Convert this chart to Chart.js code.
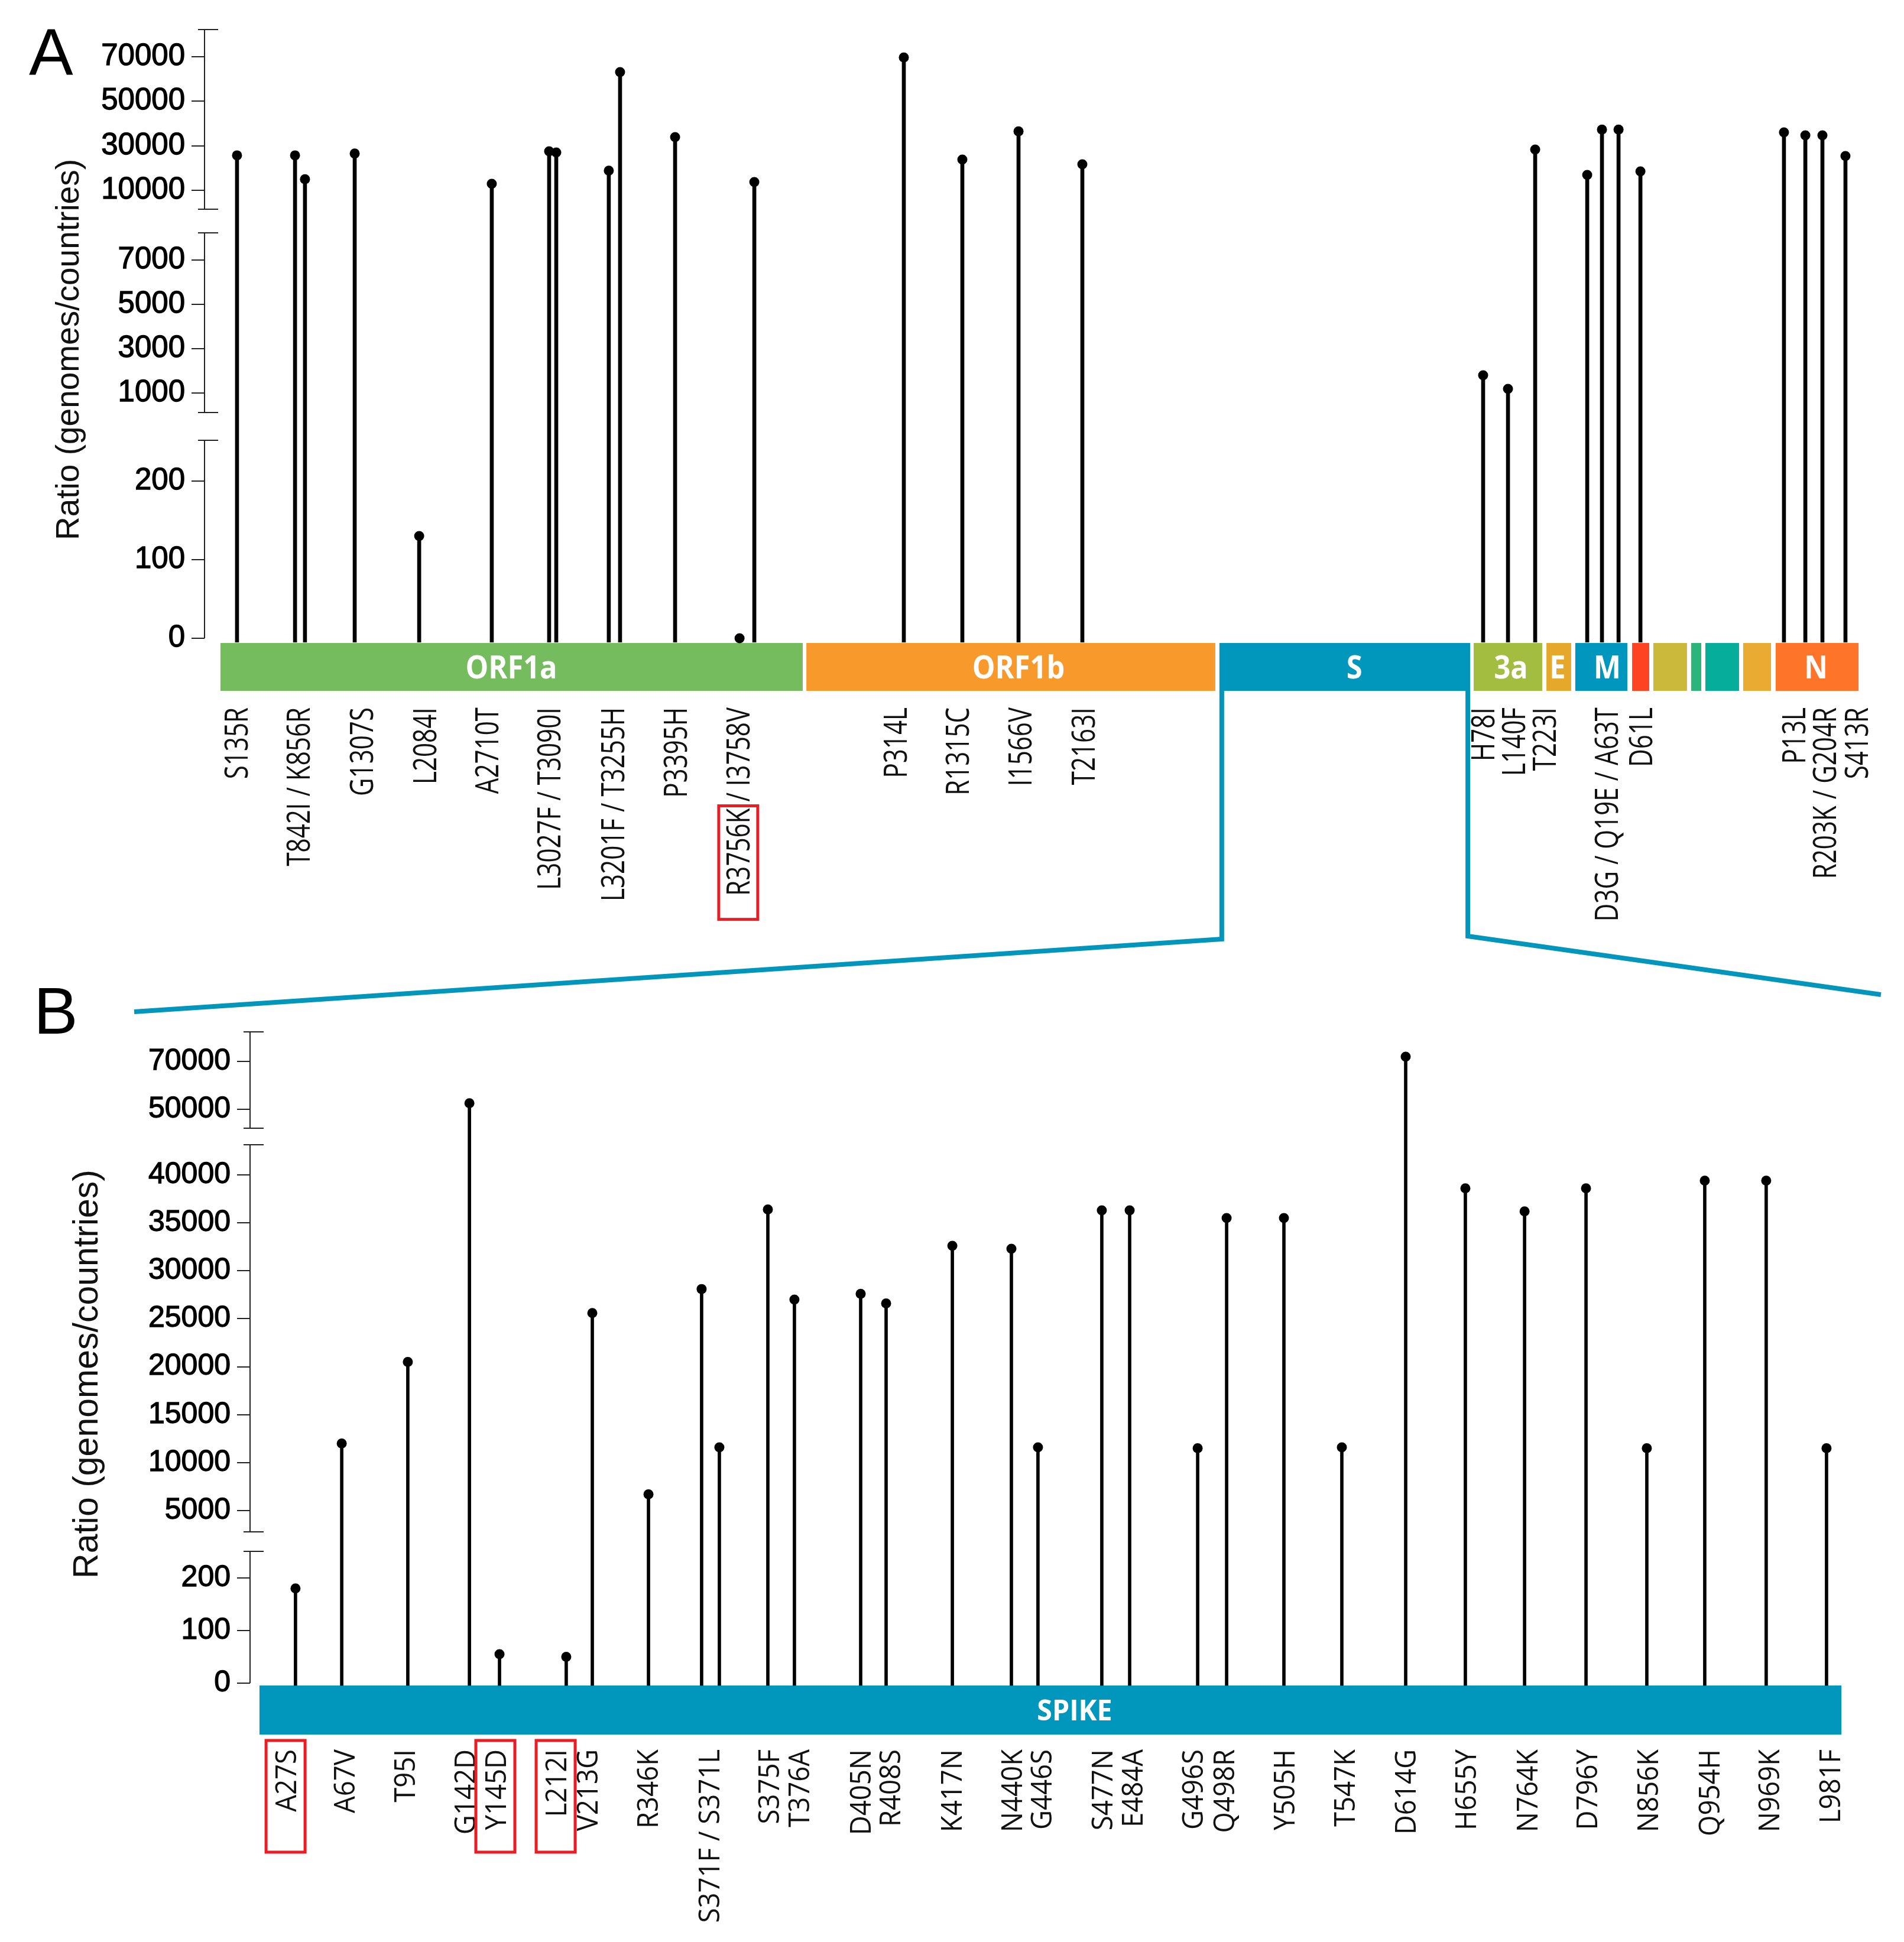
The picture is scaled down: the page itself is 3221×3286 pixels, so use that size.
<!DOCTYPE html>
<html>
<head>
<meta charset="utf-8">
<script src="https://cdn.jsdelivr.net/npm/chart.js@4.4.1/dist/chart.umd.min.js"></script>
<style>
  html, body { margin: 0; padding: 0; background: #fff; }
  #wrap { position: relative; width: 3221px; height: 3286px; }
  #wrap canvas { position: absolute; left: 0; top: 0; }
</style>
</head>
<body>
<div id="wrap">
  <canvas id="chartA" width="3221" height="3286"></canvas>
  <canvas id="chartB" width="3221" height="3286"></canvas>
</div>
<script>
// ---- Panel A: genome-wide mutations (x = position along the drawn genome map, 0..1000)
const mutA = ['S135R', 'T842I', 'K856R', 'G1307S', 'L2084I', 'A2710T', 'L3027F', 'T3090I', 'L3201F', 'T3255H',
  'P3395H', 'R3756K', 'I3758V', 'P314L', 'R1315C', 'I1566V', 'T2163I', 'H78I', 'L140F', 'T223I',
  'D3G', 'Q19E', 'A63T', 'D61L', 'P13L', 'R203K', 'G204R', 'S413R'];
const posA = [19.6, 54.6, 60.6, 90.6, 129.5, 173.3, 207.9, 212.2, 243.9, 250.7,
  283.9, 322.8, 331.7, 421.9, 457.2, 491.1, 529.6, 771.4, 786.4, 802.8,
  834.2, 843.1, 853.1, 866.3, 952.9, 965.8, 976.1, 990.0];
const ratioA = [25700, 25700, 15000, 26500, 130, 12900, 27500, 27000, 18800, 63100,
  33900, 0, 13700, 69700, 23800, 36500, 21700, 1800, 1190, 28300,
  16900, 37300, 37300, 18500, 36000, 34700, 34700, 25400];

const labelsA = ['S135R', 'T842I / K856R', 'G1307S', 'L2084I', 'A2710T', 'L3027F / T3090I', 'L3201F / T3255H',
  'P3395H', 'R3756K / I3758V', 'P314L', 'R1315C', 'I1566V', 'T2163I', 'H78I', 'L140F', 'T223I',
  'D3G / Q19E / A63T', 'D61L', 'P13L', 'R203K / G204R', 'S413R'];
const labelPosA = [19.3, 56.7, 94.9, 133.0, 170.5, 207.9, 246.4, 284.2, 322.0, 416.9, 454.4, 492.2, 530.3,
  771.4, 789.9, 808.5, 845.9, 866.6, 959.0, 977.5, 996.8];

const genesA = ['ORF1a', 'ORF1b', 'S', 'ORF3a', 'E', 'M', 'ORF6', 'ORF7a', 'ORF7b', 'ORF8', 'ORF9b', 'N'];
const geneStartA = [9.6, 363.1, 612.3, 765.7, 809.6, 827.0, 861.3, 874.1, 896.9, 905.5, 928.3, 947.9];
const geneEndA = [360.9, 609.8, 763.6, 807.1, 824.5, 858.4, 871.6, 894.4, 903.0, 925.8, 945.1, 997.9];
const geneTextA = ['ORF1a', 'ORF1b', 'S', '3a', 'E', 'M', '', '', '', '', '', 'N'];
const geneTextPosA = [185.1, 491.1, 693.7, 788.2, 816.3, 846.3, null, null, null, null, null, 972.2];
const geneColorsA = ['#74bc5d', '#f8992c', '#0197bd', '#a3bd40', '#e6a82a', '#0196bd',
  '#fd4322', '#cab93a', '#2bb57a', '#07ad9b', '#e9ab31', '#fe7429'];

const ticksA = [0, 100, 200, 1000, 3000, 5000, 7000, 10000, 30000, 50000, 70000];

// ---- Panel B: spike mutations
const mutB = ['A27S', 'A67V', 'T95I', 'G142D', 'Y145D', 'L212I', 'V213G', 'R346K', 'S371F', 'S371L',
  'S375F', 'T376A', 'D405N', 'R408S', 'K417N', 'N440K', 'G446S', 'S477N', 'E484A', 'G496S',
  'Q498R', 'Y505H', 'T547K', 'D614G', 'H655Y', 'N764K', 'D796Y', 'N856K', 'Q954H', 'N969K', 'L981F'];
const posB = [28.4, 57.3, 98.6, 137.1, 155.9, 197.6, 213.9, 249.0, 282.2, 293.3,
  323.6, 340.2, 381.6, 397.5, 438.9, 475.8, 492.4, 532.3, 549.7, 592.2,
  610.3, 646.1, 682.3, 722.2, 759.5, 796.5, 834.9, 872.9, 909.1, 947.5, 985.2];
const ratioB = [180, 12000, 20500, 52500, 55, 50, 25600, 6700, 28100, 11600,
  36400, 27000, 27600, 26600, 32600, 32300, 11600, 36300, 36300, 11500,
  35500, 35500, 11600, 72000, 38600, 36200, 38600, 11500, 39400, 39400, 11500];

const labelsB = ['A27S', 'A67V', 'T95I', 'G142D', 'Y145D', 'L212I', 'V213G', 'R346K', 'S371F / S371L',
  'S375F', 'T376A', 'D405N', 'R408S', 'K417N', 'N440K', 'G446S', 'S477N', 'E484A', 'G496S', 'Q498R',
  'Y505H', 'T547K', 'D614G', 'H655Y', 'N764K', 'D796Y', 'N856K', 'Q954H', 'N969K', 'L981F'];
const labelPosB = [22.2, 58.7, 96.4, 134.1, 153.3, 191.0, 210.6, 248.2, 286.7,
  324.0, 342.8, 381.2, 399.7, 438.1, 475.8, 494.3, 532.3, 551.2, 588.8, 608.4,
  646.1, 683.8, 721.8, 759.5, 797.9, 835.2, 873.3, 911.7, 949.0, 987.1];

const genesB = ['SPIKE'];
const geneStartB = [5.9];
const geneEndB = [994.5];
const geneTextB = ['SPIKE'];
const geneTextPosB = [515.3];
const geneColorsB = ['#0197bd'];

const ticksB = [0, 100, 200, 5000, 10000, 15000, 20000, 25000, 30000, 35000, 40000, 50000, 70000];

const FONT_NUM = '"Liberation Sans", Arial, sans-serif';
const FONT_LBL = '"Open Sans", "Noto Sans", sans-serif';
const Y_TITLE = 'Ratio (genomes/countries)';

/**
 * Broken y axis: several linear pieces stacked on top of each other.
 * each segment: v0/v1 anchor values at decimals d0/d1, lo/hi = visible extent (decimal)
 */
class BrokenAxis extends Chart.LinearScale {
  static id = 'brokenAxis';
  static defaults = {};

  _valueAt(s, dec) {
    return s.v0 + (dec - s.d0) * (s.v1 - s.v0) / (s.d1 - s.d0);
  }
  _segFor(v) {
    const segs = this.options.segments;
    return segs.find(g => v <= this._valueAt(g, g.hi)) || segs[segs.length - 1];
  }
  determineDataLimits() {
    const segs = this.options.segments;
    this.min = this._valueAt(segs[0], 0);
    this.max = this._valueAt(segs[segs.length - 1], 1);
  }
  buildTicks() {
    return this.options.tickValues.map(v => ({ value: v }));
  }
  getPixelForValue(v) {
    const s = this._segFor(v);
    return this.getPixelForDecimal(s.d0 + (v - s.v0) * (s.d1 - s.d0) / (s.v1 - s.v0));
  }
  getValueForPixel(p) {
    const dec = this.getDecimalForPixel(p);
    const segs = this.options.segments;
    const s = segs.find(g => dec <= g.hi) || segs[segs.length - 1];
    return this._valueAt(s, dec);
  }
}
Chart.register(BrokenAxis);

// rotated (bottom-to-top) label whose end sits at yTop
function drawUpLabel(ctx, text, x, yTop, size, condense) {
  ctx.save();
  ctx.translate(x, yTop);
  ctx.rotate(-Math.PI / 2);
  ctx.scale(condense, 1);
  ctx.font = `${size}px ${FONT_LBL}`;
  ctx.textAlign = 'right';
  ctx.textBaseline = 'alphabetic';
  ctx.fillText(text, 0, size * 0.357);
  ctx.restore();
}

function textLen(ctx, text, size, condense) {
  ctx.save();
  ctx.font = `${size}px ${FONT_LBL}`;
  const w = ctx.measureText(text).width * condense;
  ctx.restore();
  return w;
}

// gene bar, mutation labels, broken axis line, axis title, panel letter
function decorPlugin(cfg) {
  return {
    id: 'decor' + cfg.letter,
    beforeDatasetsDraw(chart) {
      const { ctx, chartArea, scales: { x } } = chart;
      const top = chartArea.bottom + cfg.barGap;
      cfg.genes.forEach((g, i) => {
        const x0 = x.getPixelForValue(cfg.geneStart[i]);
        const x1 = x.getPixelForValue(cfg.geneEnd[i]);
        ctx.fillStyle = cfg.geneColors[i];
        ctx.fillRect(x0, top, x1 - x0, cfg.barHeight);
      });
    },
    afterDraw(chart) {
      const { ctx, chartArea, scales: { x, y } } = chart;
      const barTop = chartArea.bottom + cfg.barGap;
      const barBottom = barTop + cfg.barHeight;

      // names inside the gene bar
      ctx.save();
      ctx.fillStyle = '#fff';
      ctx.font = `bold ${cfg.geneFont}px ${FONT_LBL}`;
      ctx.textAlign = 'center';
      ctx.textBaseline = 'alphabetic';
      cfg.geneText.forEach((t, i) => {
        if (!t) return;
        const cx = x.getPixelForValue(cfg.geneTextPos[i]);
        ctx.save();
        ctx.translate(cx, (barTop + barBottom) / 2 + cfg.geneFont * 0.36);
        ctx.scale(cfg.geneCondense, 1);
        ctx.fillText(t, 0, 0);
        ctx.restore();
      });
      ctx.restore();

      // mutation labels
      ctx.fillStyle = '#111';
      const yTop = barBottom + cfg.labelGap;
      cfg.labels.forEach((t, i) => {
        drawUpLabel(ctx, t, x.getPixelForValue(cfg.labelPos[i]), yTop, cfg.labelFont, cfg.labelCondense);
      });

      // red highlight boxes
      ctx.save();
      ctx.strokeStyle = '#ec1c24';
      ctx.lineWidth = 5;
      cfg.boxes.forEach(b => {
        const i = cfg.labels.indexOf(b.label);
        const cx = x.getPixelForValue(cfg.labelPos[i]);
        let y0 = yTop + b.from, y1 = yTop + b.to;
        if (b.part) {
          const full = textLen(ctx, b.label, cfg.labelFont, cfg.labelCondense);
          const part = textLen(ctx, b.part, cfg.labelFont, cfg.labelCondense);
          y0 = yTop + full - part + b.from;
          y1 = yTop + full + b.to;
        }
        ctx.strokeRect(cx - 33, y0, 66, y1 - y0);
      });
      ctx.restore();

      // broken axis line with end caps
      ctx.save();
      ctx.strokeStyle = '#222';
      ctx.lineWidth = 2;
      const ax = y.right;
      y.options.segments.forEach((s, k) => {
        const pLo = y.getPixelForDecimal(s.lo);
        const pHi = y.getPixelForDecimal(s.hi);
        ctx.beginPath();
        ctx.moveTo(ax, pLo);
        ctx.lineTo(ax, pHi);
        ctx.moveTo(ax - 11, pHi);
        ctx.lineTo(ax + 23, pHi);
        if (k > 0) {
          ctx.moveTo(ax - 11, pLo);
          ctx.lineTo(ax + 23, pLo);
        }
        ctx.stroke();
      });
      ctx.restore();

      // y axis title, rotated
      ctx.save();
      ctx.fillStyle = '#111';
      ctx.font = `${cfg.titleFont}px ${FONT_NUM}`;
      ctx.textAlign = 'center';
      ctx.textBaseline = 'alphabetic';
      ctx.translate(cfg.titleX, (chartArea.top + chartArea.bottom) / 2 + cfg.titleShift);
      ctx.rotate(-Math.PI / 2);
      ctx.fillText(Y_TITLE, 0, 0);
      ctx.restore();

      // panel letter
      ctx.save();
      ctx.fillStyle = '#000';
      ctx.font = `112px ${FONT_NUM}`;
      ctx.textAlign = 'left';
      ctx.textBaseline = 'alphabetic';
      ctx.fillText(cfg.letter, cfg.letterX, cfg.letterY);
      ctx.restore();

      // zoom lines from the S gene down to panel B
      if (cfg.zoomGene) {
        const gi = cfg.genes.indexOf(cfg.zoomGene);
        const xl = x.getPixelForValue(cfg.geneStart[gi]) + 4;
        const xr = x.getPixelForValue(cfg.geneEnd[gi]) - 4;
        ctx.save();
        ctx.strokeStyle = '#0396bd';
        ctx.lineWidth = 8;
        ctx.lineJoin = 'miter';
        ctx.beginPath();
        ctx.moveTo(xl, barBottom);
        ctx.lineTo(xl, 1589);
        ctx.lineTo(227, 1712);
        ctx.stroke();
        ctx.beginPath();
        ctx.moveTo(xr, barBottom);
        ctx.lineTo(xr, 1584);
        ctx.lineTo(3182, 1683);
        ctx.stroke();
        ctx.restore();
      }
    }
  };
}

function buildPanel(canvasId, p) {
  const pts = p.pos.map((v, i) => ({ x: v, y: p.ratio[i] }));
  return new Chart(document.getElementById(canvasId), {
    type: 'bar',
    data: {
      datasets: [
        {
          type: 'bar',
          label: 'stem',
          data: pts,
          backgroundColor: '#000',
          borderWidth: 0,
          barThickness: p.stemWidth,
          base: p.stemBase,
          clip: false,
          order: 2
        },
        {
          type: 'scatter',
          label: 'ratio',
          data: pts,
          pointRadius: 8.5,
          pointBackgroundColor: '#000',
          pointBorderWidth: 0,
          clip: false,
          order: 1
        }
      ]
    },
    options: {
      responsive: false,
      animation: false,
      devicePixelRatio: 1,
      layout: { padding: p.padding },
      plugins: { legend: { display: false }, tooltip: { enabled: false } },
      scales: {
        x: { type: 'linear', min: 0, max: 1000, display: false, offset: false, grid: { offset: false } },
        y: {
          type: 'brokenAxis',
          segments: p.segments,
          tickValues: p.ticks,
          afterFit: s => { s.width = p.axisX; },
          border: { display: false },
          grid: { drawOnChartArea: false, drawTicks: true, tickLength: 22, color: '#222', lineWidth: 2 },
          ticks: {
            autoSkip: false,
            padding: 11,
            color: '#000',
            textStrokeColor: '#000',
            textStrokeWidth: 1.3,
            font: { family: FONT_NUM, size: p.tickFont },
            callback: v => String(v)
          },
          title: { display: false }
        }
      }
    },
    plugins: [decorPlugin(p.decor)]
  });
}

// panel A: chart area 346..3150 x 50..1087
buildPanel('chartA', {
  pos: posA, ratio: ratioA, ticks: ticksA,
  stemWidth: 6, stemBase: -5, axisX: 346, tickFont: 51,
  padding: { left: 0, right: 71, top: 50, bottom: 2199 },
  segments: [
    { v0: 0, v1: 200, d0: 0.00675, d1: 0.2633, lo: 0.00675, hi: 0.3298 },
    { v0: 1000, v1: 7000, d0: 0.4069, d1: 0.6239, lo: 0.3751, hi: 0.6683 },
    { v0: 10000, v1: 70000, d0: 0.7377, d1: 0.9556, lo: 0.7068, hi: 1.0 }
  ],
  decor: {
    letter: 'A', letterX: 49, letterY: 126,
    titleFont: 55, titleX: 133, titleShift: 23,
    genes: genesA, geneStart: geneStartA, geneEnd: geneEndA, geneColors: geneColorsA,
    geneText: geneTextA, geneTextPos: geneTextPosA, geneFont: 53, geneCondense: 0.92,
    barGap: 1, barHeight: 81,
    labels: labelsA, labelPos: labelPosA, labelFont: 54, labelCondense: 0.78, labelGap: 28,
    boxes: [{ label: 'R3756K / I3758V', part: 'R3756K', from: -4, to: 40 }],
    zoomGene: 'S'
  }
});

// panel B: chart area 423..3130 x 1746..2852
buildPanel('chartB', {
  pos: posB, ratio: ratioB, ticks: ticksB,
  stemWidth: 5, stemBase: -4.5, axisX: 423, tickFont: 50,
  padding: { left: 0, right: 91, top: 1746, bottom: 434 },
  segments: [
    { v0: 0, v1: 200, d0: 0.0036, d1: 0.1646, lo: 0.0036, hi: 0.2052 },
    { v0: 5000, v1: 40000, d0: 0.2676, d1: 0.7812, lo: 0.2351, hi: 0.8273 },
    { v0: 50000, v1: 70000, d0: 0.8816, d1: 0.9548, lo: 0.8526, hi: 1.0 }
  ],
  decor: {
    letter: 'B', letterX: 57, letterY: 1749,
    titleFont: 59, titleX: 165, titleShift: 26,
    genes: genesB, geneStart: geneStartB, geneEnd: geneEndB, geneColors: geneColorsB,
    geneText: geneTextB, geneTextPos: geneTextPosB, geneFont: 49, geneCondense: 0.95,
    barGap: 0, barHeight: 83,
    labels: labelsB, labelPos: labelPosB, labelFont: 50, labelCondense: 0.91, labelGap: 25,
    boxes: [
      { label: 'A27S', from: -15, to: 174 },
      { label: 'Y145D', from: -15, to: 174 },
      { label: 'L212I', from: -15, to: 174 }
    ],
    zoomGene: null
  }
});
</script>
</body>
</html>
